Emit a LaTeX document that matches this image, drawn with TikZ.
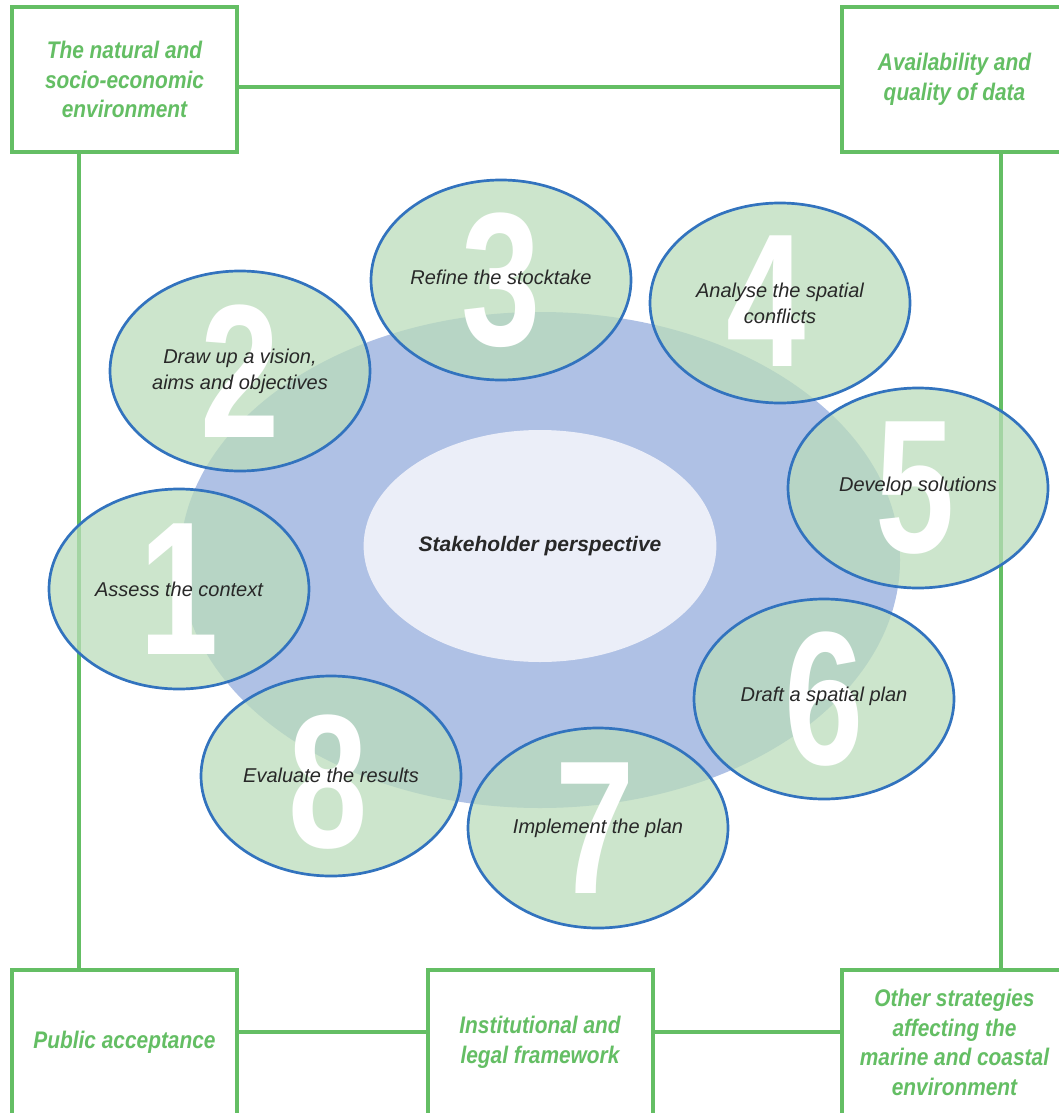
\documentclass[tikz,border=0pt]{standalone}
\usepackage{fontspec}
\setmainfont{Liberation Sans}
\newfontfamily\boxfont[FakeStretch=0.87]{Liberation Sans}
\newfontfamily\numfont[FakeStretch=0.75]{Liberation Sans}
\usetikzlibrary{shapes.geometric}
\definecolor{framegreen}{RGB}{100,190,100}
\definecolor{stepfill}{RGB}{186,220,186}
\definecolor{stepline}{RGB}{50,115,190}
\definecolor{outerblue}{RGB}{175,193,229}
\definecolor{innerblue}{RGB}{235,238,248}
\definecolor{steptext}{RGB}{40,40,40}
\tikzset{factor/.style={draw=framegreen, line width=4pt, fill=white,
  minimum width=225pt, minimum height=145pt, inner sep=0pt, align=center,
  text=framegreen, font=\boxfont\bfseries\itshape\fontsize{24}{29.5}\selectfont}}
\tikzset{link/.style={framegreen, line width=3.5pt}}
\tikzset{stepoval/.style={ellipse, draw=stepline, line width=2.7pt,
  fill=stepfill, fill opacity=.74, minimum width=260pt, minimum height=200pt, inner sep=0pt}}
\tikzset{bignum/.style={text=white, inner sep=0pt,
  font=\numfont\bfseries\fontsize{190}{190}\selectfont}}
\tikzset{steplabel/.style={align=center, text=steptext, font=\itshape\fontsize{20}{26}\selectfont}}

\begin{document}
\begin{tikzpicture}[x=1pt, y=-1pt]
    \useasboundingbox (0, 0) rectangle (1059, 1113);
    % surrounding factors
    \node[factor] (nature) at (124.5, 79.5) {The natural and\\socio-economic\\environment};
    \node[factor] (data) at (954.5, 79.5) {Availability and\\quality of data};
    \node[factor] (public) at (124.5, 1042.5) {Public acceptance};
    \node[factor] (legal) at (540, 1042.5) {Institutional and\\legal framework};
    \node[factor] (other) at (954.5, 1042.5) {Other strategies\\affecting the\\marine and coastal\\environment};
    \draw[link]([yshift=-7.5pt]nature.east)--([yshift=-7.5pt]data.west);
    \draw[link]([xshift=-45.5pt]nature.south)--([xshift=-45.5pt]public.north);
    \draw[link]([xshift=46.5pt]data.south)--([xshift=46.5pt]other.north);
    \draw[link]([yshift=10.5pt]public.east)--([yshift=10.5pt]legal.west);
    \draw[link]([yshift=10.5pt]legal.east)--([yshift=10.5pt]other.west);
    % stakeholder core
    \node[ellipse, fill=outerblue, minimum width=720pt, minimum height=496pt] (ring) at (540, 560) {};
    \node[ellipse, fill=innerblue, minimum width=344pt, minimum height=232pt, text=steptext,
      font=\bfseries\itshape\fontsize{21}{25}\selectfont] (core) at (540, 546) {Stakeholder perspective};
    % the eight steps
    \node[stepoval] (s1) at (179, 589) {};
    \node[bignum] (n1) at (s1) {1};
    \node[steplabel] (t1) at (s1) {Assess the context};
    \node[stepoval] (s2) at (240, 371) {};
    \node[bignum] (n2) at (s2) {2};
    \node[steplabel] (t2) at (s2) {Draw up a vision,\\aims and objectives};
    \node[stepoval] (s3) at (501, 280) {};
    \node[bignum] (n3) at (s3) {3};
    \node[steplabel] (t3) at (501, 277) {Refine the stocktake};
    \node[stepoval] (s4) at (780, 303) {};
    \node[bignum] (n4) at (766, 301) {4};
    \node[steplabel] (t4) at (s4) {Analyse the spatial\\conflicts};
    \node[stepoval] (s5) at (918, 488) {};
    \node[bignum] (n5) at (915, 488) {5};
    \node[steplabel] (t5) at (918, 486) {Develop solutions};
    \node[stepoval] (s6) at (824, 699) {};
    \node[bignum] (n6) at (s6) {6};
    \node[steplabel] (t6) at (824, 696) {Draft a spatial plan};
    \node[stepoval] (s7) at (598, 828) {};
    \node[bignum] (n7) at (595, 828) {7};
    \node[steplabel] (t7) at (s7) {Implement the plan};
    \node[stepoval] (s8) at (331, 776) {};
    \node[bignum] (n8) at (328, 782) {8};
    \node[steplabel] (t8) at (331, 775) {Evaluate the results};
\end{tikzpicture}
\end{document}
